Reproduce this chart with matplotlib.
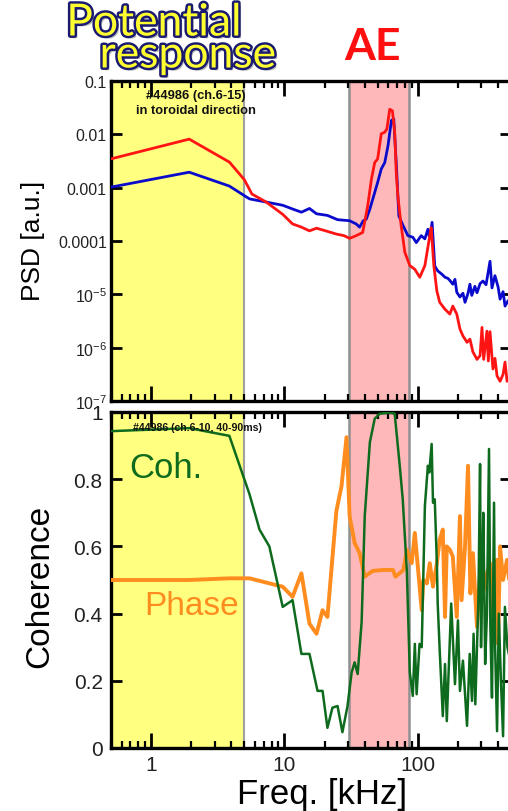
import numpy as np
import matplotlib
matplotlib.use("Agg")
import matplotlib.pyplot as plt
import matplotlib.patheffects as pe
from matplotlib.ticker import FixedLocator, NullFormatter, NullLocator, LogLocator

plt.rcParams['font.family'] = ['Liberation Sans', 'DejaVu Sans']
plt.rcParams['mathtext.fontset'] = 'custom'
plt.rcParams['mathtext.rm'] = 'Liberation Sans'

# ---------------- data ----------------
# PSD (top panel), frequency in kHz, PSD as log10 values
freq_red = [0.5, 1.93, 3.86, 5.0, 5.7, 7.3, 9.7, 11.5, 13.4, 15.4, 17.4, 21.0, 24.5, 28.0,
            30.8, 34.5, 38.6, 42.1, 44.9, 47.5, 50.0, 53.2, 56.5, 58.6, 61.6, 64.5, 67.1,
            68.9, 70.8, 75.0, 79.9, 87.1, 94.9, 103.5, 113, 123, 126, 132, 139, 146, 160,
            174, 183, 196, 207, 218, 234, 246, 259, 278, 293, 303, 312, 330, 338, 348, 366,
            379, 393, 414, 436, 451, 467, 500]
log_psd_red = [-2.46, -2.09, -2.52, -2.85, -3.12, -3.27, -3.50, -3.68, -3.74, -3.81, -3.76,
               -3.82, -3.87, -3.90, -3.95, -3.90, -3.84, -3.34, -2.84, -2.53, -2.46, -1.99,
               -1.96, -1.90, -1.53, -1.56, -1.96, -2.71, -3.15, -3.71, -4.21, -4.46, -4.53,
               -4.68, -4.46, -3.90, -3.75, -4.47, -4.94, -5.15, -5.28, -5.37, -5.22, -5.37,
               -5.65, -5.78, -5.90, -5.84, -6.08, -6.22, -6.15, -5.62, -6.22, -5.69, -6.25,
               -5.70, -6.40, -6.20, -6.53, -6.63, -6.50, -6.27, -6.63, -6.55]

freq_blue = [0.5, 1.93, 3.86, 5.46, 7.3, 9.7, 11.5, 13.4, 15.4, 17.4, 21.0, 25.0, 30.8, 34.5,
             36.6, 39.0, 41.1, 43.7, 46.0, 50.0, 53.2, 56.5, 59.8, 63.4, 66.0, 68.9, 72.1,
             77.5, 84.3, 91.9, 97.4, 106, 113, 119, 123, 128, 134, 141, 151, 160, 168, 174,
             183, 190, 196, 207, 218, 226, 238, 246, 254, 268, 278, 293, 308, 325, 348, 360,
             379, 400, 414, 436, 451, 475, 500]
log_psd_blue = [-2.99, -2.71, -2.97, -3.21, -3.27, -3.33, -3.40, -3.46, -3.39, -3.49, -3.52,
                -3.60, -3.62, -3.68, -3.74, -3.62, -3.59, -3.40, -3.21, -2.90, -2.65, -2.53,
                -2.21, -1.74, -1.71, -2.53, -3.53, -3.71, -3.90, -3.93, -4.03, -3.90, -3.96,
                -3.78, -3.96, -3.65, -4.47, -4.56, -4.62, -4.68, -4.70, -4.74, -4.81, -4.72,
                -4.96, -5.05, -4.98, -5.15, -4.98, -4.81, -5.02, -4.85, -4.97, -4.80, -4.75,
                -4.82, -4.38, -4.88, -4.65, -4.86, -5.09, -4.95, -5.22, -5.12, -5.18]

# Coherence and phase (bottom panel)
freq_coh = [0.5, 1.93, 3.86, 5.46, 6.5, 7.7, 9.7, 11.5, 13.4, 15.4, 17.7, 19.3, 21.0, 22.9,
            25.0, 27.2, 29.7, 31.9, 33.6, 35.4, 37.9, 40.0, 43.7, 47.5, 51.8, 61.6, 67.1,
            73.2, 77.1, 82.7, 87.1, 91.7, 95, 98, 103, 107, 113, 119, 122, 127, 130, 134,
            139, 141, 146, 154, 160, 165, 178, 190, 200, 207, 218, 234, 245, 255, 262, 270,
            285, 293, 298, 303, 310, 320, 330, 342, 350, 360, 373, 380, 393, 405, 420, 436,
            450, 470, 500]
coherence = [0.943, 0.952, 0.929, 0.756, 0.65, 0.60, 0.42, 0.44, 0.28, 0.28, 0.17, 0.17, 0.06,
             0.12, 0.125, 0.047, 0.125, 0.225, 0.255, 0.22, 0.375, 0.69, 0.91, 0.98, 0.995,
             0.998, 0.995, 0.84, 0.74, 0.53, 0.225, 0.155, 0.31, 0.16, 0.31, 0.30, 0.72, 0.84,
             0.82, 0.905, 0.73, 0.74, 0.55, 0.43, 0.29, 0.095, 0.25, 0.08, 0.43, 0.19, 0.38,
             0.17, 0.26, 0.066, 0.28, 0.14, 0.34, 0.13, 0.45, 0.845, 0.30, 0.46, 0.70, 0.25,
             0.40, 0.89, 0.36, 0.15, 0.73, 0.30, 0.05, 0.40, 0.20, 0.035, 0.42, 0.30, 0.25]

freq_phase = [0.5, 1.93, 3.86, 5.46, 7.7, 9.7, 11.5, 13.4, 15.4, 17.4, 19.3, 21.0, 24.5, 26.8,
              29.2, 30.8, 33.6, 36.6, 40.0, 45.8, 55, 65, 68, 73, 78, 83, 90, 95, 100, 107,
              110, 117, 123, 130, 139, 146, 154, 160, 165, 174, 183, 196, 207, 213, 226, 238,
              248, 259, 278, 293, 308, 330, 348, 366, 393, 400, 414, 436, 467, 500]
phase = [0.50, 0.50, 0.505, 0.505, 0.49, 0.48, 0.45, 0.52, 0.37, 0.34, 0.41, 0.39, 0.705,
         0.78, 0.925, 0.69, 0.61, 0.58, 0.51, 0.527, 0.53, 0.53, 0.51, 0.52, 0.53, 0.59, 0.55,
         0.64, 0.54, 0.41, 0.50, 0.49, 0.55, 0.48, 0.55, 0.62, 0.65, 0.39, 0.60, 0.59, 0.57,
         0.39, 0.69, 0.44, 0.60, 0.84, 0.46, 0.58, 0.36, 0.52, 0.46, 0.52, 0.55, 0.40, 0.56,
         0.31, 0.60, 0.50, 0.56, 0.45]

psd_ticks = [1e-7, 1e-6, 1e-5, 1e-4, 1e-3, 1e-2, 1e-1]
psd_ticklabels = ['10$^{-7}$', '10$^{-6}$', '10$^{-5}$', '0.0001', '0.001', '0.01', '0.1']
coh_ticks = [0, 0.2, 0.4, 0.6, 0.8, 1]
coh_ticklabels = ['0', '0.2', '0.4', '0.6', '0.8', '1']
freq_ticks = [1, 10, 100]
freq_ticklabels = ['1', '10', '100']

potential_band = (0.5, 5.0)
ae_band = (30.5, 86.0)

# ---------------- figure ----------------
W, H = 508, 812
fig = plt.figure(figsize=(W / 100, H / 100), dpi=100)


def fx(px):
    return px / W


def fy(py):
    return 1 - py / H


L, R = 111, 511
ax1 = fig.add_axes([fx(L), fy(402), fx(R) - fx(L), fy(82) - fy(402)])
ax2 = fig.add_axes([fx(L), fy(749), fx(R) - fx(L), fy(413) - fy(749)])

yellow = '#FFFF80'
pink = '#FFB8BA'
for ax in (ax1, ax2):
    ax.set_xscale('log')
    ax.set_xlim(0.5, 500)
    ax.axvspan(*potential_band, facecolor=yellow, edgecolor='#A0A0A0', lw=1.5, zorder=0)
    ax.axvspan(*ae_band, facecolor=pink, edgecolor='#909090', lw=1.8, zorder=0)
    for s in ax.spines.values():
        s.set_linewidth(2.4)
    ax.xaxis.set_major_locator(FixedLocator(freq_ticks))
    ax.xaxis.set_minor_locator(LogLocator(base=10, subs=np.arange(2, 10)))
    ax.xaxis.set_minor_formatter(NullFormatter())
    ax.tick_params(axis='both', which='both', direction='in', top=True, right=True,
                   colors='black', labelcolor='#222222')
    ax.tick_params(which='major', length=8, width=2.0)
    ax.tick_params(which='minor', length=5, width=1.6)
    ax.tick_params(axis='x', which='major', length=11)

# top panel
ax1.set_yscale('log')
ax1.set_ylim(1e-7, 1e-1)
ax1.plot(freq_blue, 10 ** np.array(log_psd_blue), color='#0A0ACC', lw=2.0, zorder=3)
ax1.plot(freq_red, 10 ** np.array(log_psd_red), color='#FF1414', lw=2.0, zorder=4)
ax1.yaxis.set_major_locator(FixedLocator(psd_ticks))
ax1.yaxis.set_minor_locator(NullLocator())
ax1.set_yticklabels(psd_ticklabels, fontsize=11.5)
ax1.set_xticklabels([])
ax1.tick_params(axis='y', pad=3)
ax1.set_ylabel('PSD [a.u.]', fontsize=19)
ax1.yaxis.set_label_coords((33 - L) / (R - L), (402 - 241) / (402 - 82))
fig.text(fx(196), fy(103.5), '#44986 (ch.6-15)\nin toroidal direction', ha='center',
         va='center', fontsize=9.3, fontweight='bold', color='#111111', linespacing=1.3)

# bottom panel
ax2.set_ylim(0, 1)
ax2.plot(freq_phase, phase, color='#FF8C1E', lw=2.8, zorder=3)
ax2.plot(freq_coh, coherence, color='#0E6B1E', lw=1.8, zorder=4)
ax2.yaxis.set_major_locator(FixedLocator(coh_ticks))
ax2.yaxis.set_minor_locator(NullLocator())
ax2.set_yticklabels(coh_ticklabels, fontsize=15)
ax2.set_xticklabels(freq_ticklabels, fontsize=15)
ax2.tick_params(axis='x', pad=5)
ax2.tick_params(axis='y', pad=6)
ax2.set_ylabel('Coherence', fontsize=24)
ax2.yaxis.set_label_coords((40 - L) / (R - L), (749 - 586) / (749 - 413))
ax2.set_xlabel('Freq. [kHz]', fontsize=25)
ax2.xaxis.set_label_coords((322 - L) / (R - L), -(795 - 749) / (749 - 413))
ax2.xaxis.label.set_va('center')
ax2.yaxis.label.set_va('center')
ax1.yaxis.label.set_va('center')
fig.text(fx(197), fy(428), '#44986 (ch.6-10, 40-90ms)', ha='center', va='center',
         fontsize=7.6, fontweight='bold', color='#111111')
fig.text(fx(166), fy(469), 'Coh.', ha='center', va='center', fontsize=25, color='#0E6B1E')
fig.text(fx(192), fy(607), 'Phase', ha='center', va='center', fontsize=24, color='#FF8C1E')

# headline labels
effects = [pe.SimplePatchShadow(offset=(2, -2), shadow_rgbFace='#888888', alpha=0.6),
           pe.Stroke(linewidth=3.5, foreground='#1A1A70'), pe.Normal()]
for txt, cx, cy in (('Potential', 154, 24), ('response', 188, 56)):
    t = fig.text(fx(cx), fy(cy), txt, ha='center', va='center', fontsize=32,
                 family=['Lato', 'DejaVu Sans'], color='#FFFF30')
    t.set_path_effects(effects)
fig.text(fx(373), fy(47), 'AE', ha='center', va='center', fontsize=32, fontweight='bold',
         family=['Lato', 'DejaVu Sans'], color='#FF1010')

fig.savefig('out.png', dpi=100)
